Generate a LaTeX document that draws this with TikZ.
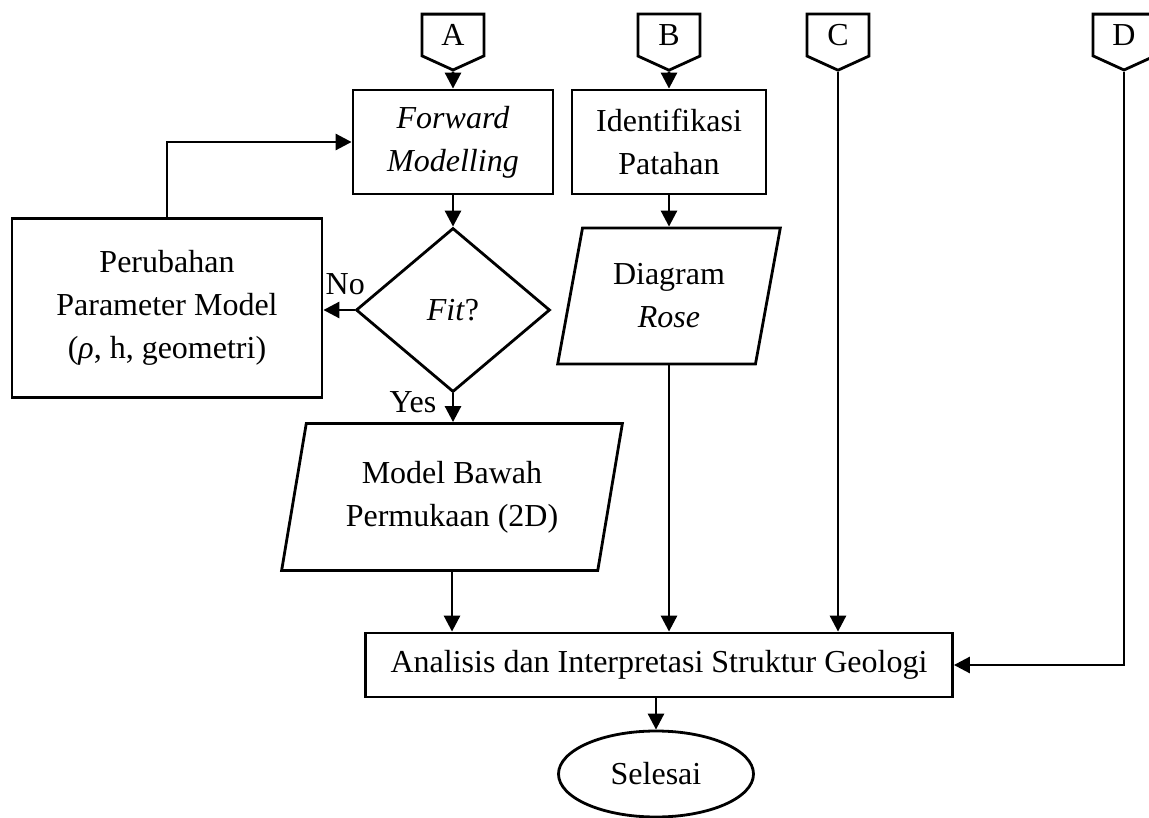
\documentclass[tikz,border=0pt]{standalone}
\usepackage{fontspec}
\setmainfont{Liberation Serif}
\usepackage{tikz}
\usetikzlibrary{shapes}
\usetikzlibrary{arrows.meta}
\tikzset{
	process node/.style={rectangle,draw,align=center,inner sep=0pt},
	decision/.style={diamond,draw,inner sep=0pt,minimum width=194pt,minimum height=164pt},
	io node/.style={trapezium,draw,align=center,trapezium left angle=76,
		trapezium right angle=104,trapezium stretches=true,inner sep=0pt},
	offpage/.style={signal,draw,signal to=south,signal pointer angle=131,
		minimum width=62pt,minimum height=47pt,inner sep=0pt},
	term node/.style={ellipse,draw,inner sep=0pt,minimum width=195pt,minimum height=86pt}
}

\begin{document}
\begin{tikzpicture}[x=1pt,y=-1pt,->,>={Triangle[length=16pt,width=16pt]},
		line width=2.8pt,font=\fontsize{32}{43}\selectfont]
	\clip (0,0) rectangle (1149,818);
	\node[offpage] (A) at (453,35) {A};
	\node[offpage] (B) at (669,35) {B};
	\node[offpage] (C) at (838,35) {C};
	\node[offpage] (D) at (1124,35) {D};
	\node[process node,minimum width=200pt,minimum height=104pt] (fwd) at (453,142) {\textit{Forward}\\\textit{Modelling}};
	\node[process node,minimum width=194pt,minimum height=104pt] (ident) at (669,142) {Identifikasi\\Patahan};
	\node[decision] (fit) at (453,310) {\textit{Fit}?};
	\node[process node,minimum width=310pt,minimum height=179pt] (ubah) at (167,308) {Perubahan\\Parameter Model\\(\textit{ρ}, h, geometri)};
	\node[io node,minimum width=342pt,minimum height=147pt] (model) at (452,497) {Model Bawah\\Permukaan (2D)};
	\node[io node,minimum width=223pt,minimum height=136pt] (rose) at (669,296) {Diagram\\\textit{Rose}};
	\node[process node,minimum width=587pt,minimum height=64pt] (anl) at (659,665) {Analisis dan Interpretasi Struktur Geologi};
	\node[term node] (end) at (656,774) {Selesai};

	\draw (A) -- (fwd);
	\draw (B) -- (ident);
	\draw (fwd) -- (fit);
	\draw (fit.west) -- node[above,pos=0.3,yshift=10pt] {No} (fit.west -| ubah.east);
	\draw (ubah.north) |- (fwd.west);
	\draw (fit.south) -- node[left,xshift=-12pt,yshift=6pt] {Yes} (fit.south |- model.north);
	\draw (ident) -- (rose);
	\draw (model.south) -- (model.south |- anl.north);
	\draw (rose.south) -- (rose.south |- anl.north);
	\draw (C.south) -- (C.south |- anl.north);
	\draw (D.south) |- (anl.east);
	\draw (end.north |- anl.south) -- (end.north);
\end{tikzpicture}
\end{document}
